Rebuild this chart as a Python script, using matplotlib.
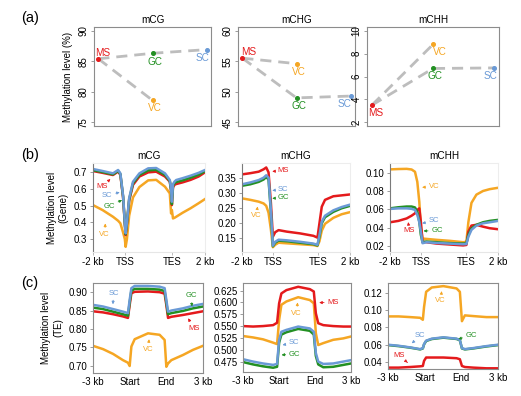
import matplotlib
matplotlib.use('Agg')
import matplotlib.pyplot as plt

plt.rcParams['font.family'] = ['Liberation Sans', 'DejaVu Sans']
plt.rcParams['font.size'] = 7

W, H = 521, 396

# ---------------- data ----------------
cells = ['MS', 'VC', 'GC', 'SC']
cell_x = [1, 2, 2, 3]
colors = {'MS': '#E41A1C', 'VC': '#F5A623', 'GC': '#239023', 'SC': '#6A9AD6'}
contexts = ['mCG', 'mCHG', 'mCHH']

# (a) genome-wide methylation level (%)
a_cg = [85.4, 78.6, 86.3, 86.9]
a_chg = [55.5, 54.6, 49.0, 49.3]
a_chh = [3.5, 8.8, 6.7, 6.75]

# (b) gene profiles, x: -2 kb .. TSS(20) .. TES(49.5) .. 2 kb(70)
xb_cg = [0, 6, 12.5, 15.7, 17.1, 18.8, 19.9, 20.4, 21.2, 22.6, 25, 29, 34.5,
         39.5, 45, 48, 48.8, 49.3, 50, 51, 52, 56, 61, 66, 70]
b_cg_ms = [0.708, 0.697, 0.684, 0.705, 0.685, 0.55, 0.39, 0.324, 0.39, 0.53, 0.625, 0.675, 0.70,
           0.704, 0.675, 0.644, 0.59, 0.504, 0.61, 0.626, 0.63, 0.64, 0.655, 0.675, 0.70]
b_cg_gc = [0.713, 0.702, 0.688, 0.709, 0.69, 0.555, 0.395, 0.33, 0.395, 0.538, 0.635, 0.685, 0.712,
           0.715, 0.685, 0.648, 0.595, 0.51, 0.62, 0.636, 0.642, 0.652, 0.668, 0.686, 0.707]
b_cg_sc = [0.72, 0.708, 0.694, 0.714, 0.694, 0.56, 0.40, 0.335, 0.40, 0.545, 0.644, 0.694, 0.724,
           0.726, 0.694, 0.654, 0.6, 0.524, 0.63, 0.645, 0.654, 0.665, 0.68, 0.697, 0.714]
b_cg_vc = [0.504, 0.474, 0.434, 0.41, 0.395, 0.34, 0.30, 0.254, 0.30, 0.44, 0.55, 0.612, 0.652,
           0.655, 0.614, 0.574, 0.454, 0.474, 0.424, 0.428, 0.434, 0.458, 0.485, 0.515, 0.54]

xb_chg = [0, 5.4, 10.8, 14, 15.7, 17.2, 18.7, 20, 21.5, 23.7, 29, 37.7, 46.3, 48.9,
          50.2, 51.7, 53.8, 59.2, 64.6, 70]
b_chg_ms = [0.363, 0.367, 0.372, 0.38, 0.386, 0.37, 0.27, 0.155, 0.17, 0.177, 0.172, 0.166, 0.158,
            0.152, 0.20, 0.255, 0.278, 0.29, 0.293, 0.296]
b_chg_gc = [0.325, 0.33, 0.338, 0.346, 0.354, 0.346, 0.24, 0.123, 0.135, 0.142, 0.14, 0.135, 0.13,
            0.126, 0.155, 0.2, 0.22, 0.238, 0.25, 0.258]
b_chg_sc = [0.33, 0.336, 0.344, 0.352, 0.36, 0.352, 0.245, 0.125, 0.138, 0.145, 0.143, 0.138, 0.132,
            0.128, 0.16, 0.205, 0.225, 0.243, 0.254, 0.262]
b_chg_vc = [0.283, 0.278, 0.272, 0.266, 0.258, 0.235, 0.18, 0.12, 0.128, 0.135, 0.133, 0.13, 0.127,
            0.124, 0.14, 0.175, 0.198, 0.218, 0.23, 0.237]

xb_chh = [0, 5.4, 10.8, 14, 16.2, 17.7, 19, 20, 21.1, 23.7, 30.2, 38.8, 47.4, 49.5,
          50.8, 52.8, 56, 60.3, 64.6, 70]
b_chh_ms = [0.0458, 0.0473, 0.050, 0.053, 0.0556, 0.0593, 0.061, 0.0465, 0.0247, 0.024, 0.0225,
            0.0215, 0.0205, 0.021, 0.0356, 0.0422, 0.043, 0.041, 0.0393, 0.0382]
b_chh_gc = [0.061, 0.0622, 0.063, 0.063, 0.062, 0.057, 0.0465, 0.032, 0.024, 0.0247, 0.024,
            0.023, 0.0225, 0.0228, 0.032, 0.039, 0.043, 0.0458, 0.0473, 0.0484]
b_chh_sc = [0.0604, 0.061, 0.061, 0.0605, 0.0593, 0.054, 0.0458, 0.0356, 0.0229, 0.024, 0.0232,
            0.0225, 0.0218, 0.022, 0.030, 0.0375, 0.0422, 0.0447, 0.0458, 0.0473]
b_chh_vc = [0.1036, 0.104, 0.1042, 0.1035, 0.101, 0.09, 0.068, 0.04, 0.028, 0.0276, 0.0266,
            0.0255, 0.024, 0.0245, 0.046, 0.067, 0.076, 0.08, 0.082, 0.0835]

# (c) TE profiles, x: -3 kb .. Start(30) .. End(60) .. 3 kb(90)
xc_cg = [0, 8.2, 16.4, 24.5, 28.6, 30, 31.4, 34.1, 45, 54.5, 58.6, 60, 61.4, 64.1, 73.6, 81.8, 90]
c_cg_ms = [0.848, 0.845, 0.84, 0.834, 0.83, 0.865, 0.897, 0.901, 0.902, 0.9, 0.896, 0.865,
           0.83, 0.833, 0.838, 0.843, 0.848]
c_cg_gc = [0.858, 0.854, 0.847, 0.84, 0.836, 0.872, 0.904, 0.909, 0.909, 0.907, 0.903, 0.872,
           0.84, 0.843, 0.849, 0.856, 0.861]
c_cg_sc = [0.8655, 0.861, 0.854, 0.847, 0.843, 0.879, 0.911, 0.917, 0.917, 0.915, 0.911, 0.879,
           0.847, 0.85, 0.856, 0.863, 0.868]
c_cg_vc = [0.754, 0.745, 0.732, 0.715, 0.708, 0.699, 0.752, 0.772, 0.788, 0.784, 0.77, 0.697,
           0.706, 0.715, 0.729, 0.743, 0.754]

xc_chg = [0, 8.4, 16.7, 25.1, 28.4, 30.1, 32, 36.2, 46, 55.7, 59, 60.7, 62.7, 66.9, 75.2, 83.6, 90]
c_chg_ms = [0.55, 0.549, 0.55, 0.552, 0.557, 0.598, 0.619, 0.626, 0.633, 0.628, 0.623, 0.577,
            0.556, 0.552, 0.55, 0.549, 0.549]
c_chg_gc = [0.474, 0.469, 0.465, 0.462, 0.464, 0.515, 0.532, 0.537, 0.544, 0.54, 0.532, 0.487,
            0.469, 0.463, 0.464, 0.468, 0.471]
c_chg_sc = [0.48, 0.475, 0.471, 0.468, 0.47, 0.521, 0.538, 0.542, 0.549, 0.545, 0.538, 0.493,
            0.475, 0.47, 0.471, 0.475, 0.478]
c_chg_vc = [0.529, 0.526, 0.522, 0.515, 0.512, 0.563, 0.595, 0.602, 0.611, 0.605, 0.598, 0.535,
            0.51, 0.514, 0.521, 0.524, 0.528]

xc_chh = [0, 8.7, 18.2, 26.3, 28.5, 29.5, 31.2, 35.8, 45.3, 56.1, 58.8, 60.5, 62.9, 69.7, 80.5, 90]
c_chh_ms = [0.0334, 0.0334, 0.0341, 0.0349, 0.0353, 0.0412, 0.0451, 0.0451, 0.0451, 0.0443,
            0.0431, 0.0353, 0.0341, 0.0334, 0.0326, 0.0326]
c_chh_gc = [0.0595, 0.0583, 0.0565, 0.0545, 0.0556, 0.0603, 0.0642, 0.0665, 0.0681, 0.0666,
            0.065, 0.0556, 0.0545, 0.0556, 0.0579, 0.0595]
c_chh_sc = [0.0599, 0.0587, 0.0568, 0.0548, 0.056, 0.0607, 0.0646, 0.0669, 0.0685, 0.0669,
            0.0654, 0.056, 0.0548, 0.056, 0.0583, 0.0599]
c_chh_vc = [0.0927, 0.0927, 0.0919, 0.0911, 0.0888, 0.1036, 0.1212, 0.1262, 0.1278, 0.1251,
            0.1212, 0.0872, 0.0939, 0.0931, 0.0919, 0.0919]

# ---------------- layout ----------------
def box(x0, y0, x1, y1):
    return [x0 / W, 1 - y1 / H, (x1 - x0) / W, (y1 - y0) / H]

fig = plt.figure(figsize=(W / 100, H / 100), dpi=100)

frame = '#8c8c8c'

def style_axis(ax, spine_cols):
    for side, c in spine_cols.items():
        ax.spines[side].set_color(c)
        ax.spines[side].set_linewidth(0.8)
    ax.tick_params(axis='y', length=2.5, width=0.6, color=frame, pad=1.5, labelsize=7)

# ---- (a) ----
a_boxes = [(94, 27, 211, 126), (238, 27, 355, 126), (367, 27, 499, 126)]
a_vals = [a_cg, a_chg, a_chh]
a_ylims = [(74.4, 90.6), (44.4, 60.6), (1.68, 10.32)]
a_ticks = [[75, 80, 85, 90], [45, 50, 55, 60], [2, 4, 6, 8, 10]]
# label offsets (pixels, +y = up)
a_offsets = [
    {'MS': (4, 6), 'VC': (2, -8), 'GC': (2, -9), 'SC': (-4, -8)},
    {'MS': (6, 6.5), 'VC': (2, -8), 'GC': (2, -8), 'SC': (-6, -8)},
    {'MS': (4, -8), 'VC': (7, -8), 'GC': (2, -7.5), 'SC': (-4, -8)},
]
for i in range(3):
    ax = fig.add_axes(box(*a_boxes[i]))
    v = a_vals[i]
    ax.plot([cell_x[0], cell_x[1]], [v[0], v[1]], ls=(0, (4, 2.5)), color='#bdbdbd', lw=2, zorder=1)
    ax.plot([cell_x[0], cell_x[2], cell_x[3]], [v[0], v[2], v[3]], ls=(0, (4, 2.5)),
            color='#bdbdbd', lw=2, zorder=1)
    for j, c in enumerate(cells):
        ax.plot(cell_x[j], v[j], 'o', ms=2.6, color=colors[c], zorder=2)
        dx, dy = a_offsets[i][c]
        ax.annotate(c, (cell_x[j], v[j]), xytext=(dx * 0.72, dy * 0.72), textcoords='offset points',
                    ha='center', va='center', color=colors[c], fontsize=7.2)
    ax.set_xlim(0.92, 3.08)
    ax.set_ylim(*a_ylims[i])
    ax.set_yticks(a_ticks[i])
    ax.set_xticks([])
    style_axis(ax, {s: frame for s in ['left', 'right', 'top', 'bottom']})
    ax.tick_params(axis='y', labelrotation=90)
    for t in ax.get_yticklabels():
        t.set_va('center')
    ax.set_title(contexts[i], fontsize=7.2, pad=3)
    if i == 0:
        ax.set_ylabel('Methylation level (%)', fontsize=7, labelpad=4)

# ---- (b) and (c) profiles ----
def profile(ax, x, series, notes):
    for c in ['VC', 'MS', 'GC', 'SC']:
        ax.plot(x, series[c], color=colors[c], lw=1.8, solid_joinstyle='round', zorder=2)
    for c, (txt_xy, tip_xy) in notes.items():
        ax.annotate(c, tip_xy, xytext=txt_xy, ha='center', va='center', color=colors[c],
                    fontsize=5.5,
                    arrowprops=dict(arrowstyle='-|>', color=colors[c], lw=0.6,
                                    mutation_scale=4, shrinkA=0.5, shrinkB=0))

b_boxes = [(93, 163, 205, 252), (242, 163, 350, 252), (390, 163, 498, 252)]
b_x = [xb_cg, xb_chg, xb_chh]
b_series = [
    {'MS': b_cg_ms, 'GC': b_cg_gc, 'SC': b_cg_sc, 'VC': b_cg_vc},
    {'MS': b_chg_ms, 'GC': b_chg_gc, 'SC': b_chg_sc, 'VC': b_chg_vc},
    {'MS': b_chh_ms, 'GC': b_chh_gc, 'SC': b_chh_sc, 'VC': b_chh_vc},
]
b_ylims = [(0.223, 0.756), (0.104, 0.401), (0.0133, 0.1106)]
b_ticks = [[0.3, 0.4, 0.5, 0.6, 0.7], [0.15, 0.20, 0.25, 0.30, 0.35], [0.02, 0.04, 0.06, 0.08, 0.10]]
b_fmt = ['%.1f', '%.2f', '%.2f']
b_notes = [
    {'MS': ((5.6, 0.614), (10.9, 0.66)), 'SC': ((8.8, 0.564), (16.7, 0.58)),
     'GC': ((10.0, 0.498), (18.2, 0.534)), 'VC': ((7.3, 0.328), (7.7, 0.394))},
    {'MS': ((26.8, 0.375), (19.6, 0.373)), 'SC': ((26.7, 0.314), (19.6, 0.309)),
     'GC': ((26.9, 0.285), (19.6, 0.283)), 'VC': ((9.2, 0.225), (10.1, 0.256))},
    {'VC': ((28.6, 0.0847), (20.8, 0.084)), 'SC': ((28.6, 0.0472), (20.8, 0.0447)),
     'GC': ((30.6, 0.0366), (21.7, 0.0363)), 'MS': ((12.5, 0.0363), (11.8, 0.046))},
]
for i in range(3):
    ax = fig.add_axes(box(*b_boxes[i]))
    profile(ax, b_x[i], b_series[i], b_notes[i])
    ax.set_xlim(0, 70)
    ax.set_ylim(*b_ylims[i])
    ax.set_yticks(b_ticks[i])
    ax.set_yticklabels([b_fmt[i] % t for t in b_ticks[i]])
    ax.set_xticks([0, 20, 49.5, 70])
    ax.set_xticklabels(['-2 kb', 'TSS', 'TES', '2 kb'], fontsize=7)
    style_axis(ax, {'left': '#7a7a7a', 'bottom': '#e6e6e6', 'top': '#ededed', 'right': '#ededed'})
    ax.tick_params(axis='x', length=2, width=0.6, color='#b0b0b0', pad=1.5)
    ax.set_title(contexts[i], fontsize=7.2, pad=3)
    if i == 0:
        ax.set_ylabel('Methylation level\n(Gene)', fontsize=7, labelpad=4)

c_boxes = [(93, 283, 203, 373), (243, 283, 351, 372), (388, 283, 498, 369)]
c_x = [xc_cg, xc_chg, xc_chh]
c_series = [
    {'MS': c_cg_ms, 'GC': c_cg_gc, 'SC': c_cg_sc, 'VC': c_cg_vc},
    {'MS': c_chg_ms, 'GC': c_chg_gc, 'SC': c_chg_sc, 'VC': c_chg_vc},
    {'MS': c_chh_ms, 'GC': c_chh_gc, 'SC': c_chh_sc, 'VC': c_chh_vc},
]
c_ylims = [(0.68, 0.925), (0.453, 0.641), (0.0318, 0.1314)]
c_ticks = [[0.70, 0.75, 0.80, 0.85, 0.90],
           [0.475, 0.500, 0.525, 0.550, 0.575, 0.600, 0.625],
           [0.04, 0.06, 0.08, 0.10, 0.12]]
c_fmt = ['%.2f', '%.3f', '%.2f']
c_notes = [
    {'SC': ((16.9, 0.897), (16.3, 0.867)), 'GC': ((80.1, 0.89), (81.0, 0.861)),
     'MS': ((82.4, 0.802), (77.9, 0.829)), 'VC': ((45.0, 0.745), (45.9, 0.772))},
    {'MS': ((75.2, 0.5996), (63.5, 0.5996)), 'VC': ((44.6, 0.577), (45.5, 0.6)),
     'SC': ((42.4, 0.515), (32.9, 0.51)), 'GC': ((43.2, 0.491), (32.1, 0.489))},
    {'VC': ((43.1, 0.1106), (43.9, 0.122)), 'SC': ((26.3, 0.0705), (19.5, 0.0615)),
     'GC': ((68.4, 0.0705), (57.5, 0.0666)), 'MS': ((9.4, 0.047), (16.0, 0.0392))},
]
for i in range(3):
    ax = fig.add_axes(box(*c_boxes[i]))
    profile(ax, c_x[i], c_series[i], c_notes[i])
    ax.set_xlim(0, 90)
    ax.set_ylim(*c_ylims[i])
    ax.set_yticks(c_ticks[i])
    ax.set_yticklabels([c_fmt[i] % t for t in c_ticks[i]])
    ax.set_xticks([0, 30, 60, 90])
    ax.set_xticklabels(['-3 kb', 'Start', 'End', '3 kb'], fontsize=7)
    style_axis(ax, {s: frame for s in ['left', 'right', 'top', 'bottom']})
    ax.tick_params(axis='x', length=0, pad=3)
    if i == 0:
        ax.set_ylabel('Methylation level\n(TE)', fontsize=7, labelpad=4)

# panel letters
for lab, y in [('(a)', 18), ('(b)', 155), ('(c)', 283)]:
    fig.text(30 / W, 1 - y / H, lab, fontsize=10.5, ha='center', va='center')

fig.savefig('out.png', dpi=100)
